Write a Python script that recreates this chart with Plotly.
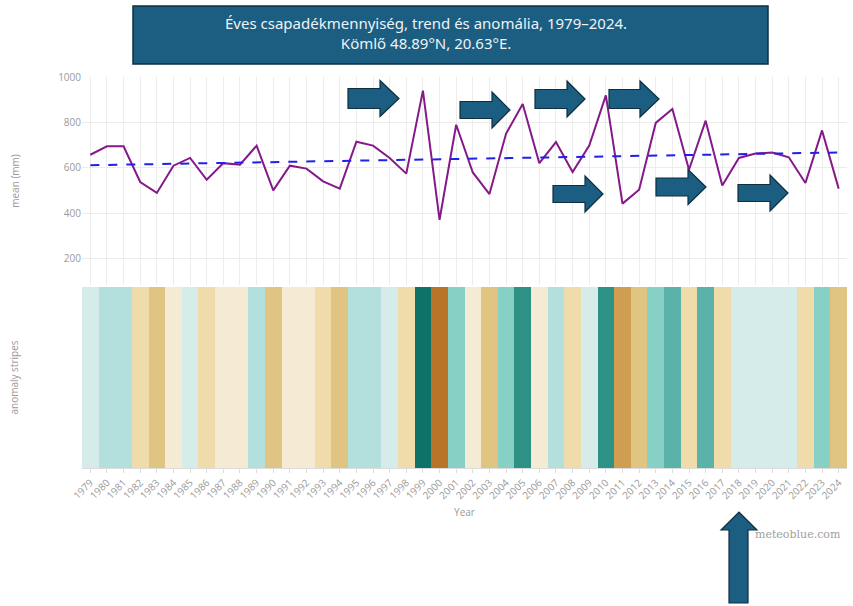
import plotly.graph_objects as go

years = list(range(1979, 2025))
precip_mm = [658, 695, 695, 538, 490, 610, 644, 548, 621, 614,
             698, 501, 610, 597, 541, 509, 715, 698, 644, 575,
             940, 372, 790, 580, 485, 751, 881, 621, 714, 582,
             698, 919, 443, 504, 798, 859, 592, 808, 523, 644,
             663, 668, 647, 534, 765, 509]
trend_years = [1979, 2024]
trend_mm = [612, 668]
anomaly_mm = [20, 60, 60, -90, -140, -30, 10, -80, -20, -25,
              60, -130, -25, -35, -85, -120, 80, 60, 10, -60,
              290, -240, 140, -45, -140, 110, 240, -20, 70, -55,
              45, 245, -190, -130, 145, 195, -60, 160, -95, 5,
              20, 25, 5, -90, 120, -110]
tick_labels = [str(y) for y in years]

stripe_colors = ["#b8752a", "#cf9e50", "#e0c481", "#f0dcaa", "#f5ebd5",
                 "#d5ecea", "#b3e0dc", "#87d0c5", "#5ab2a8", "#2e9186", "#0e7268"]
zmin, zmax = -250, 300
n = len(stripe_colors)
colorscale = []
for i, c in enumerate(stripe_colors):
    colorscale.append([i / n, c])
    colorscale.append([(i + 1) / n, c])

W, H = 853, 606
ML, MR, MT, MB = 82, 6, 77, 138
ph = H - MT - MB
pw = W - ML - MR
top_dom = [(H - MB - 285) / ph, 1]
bot_dom = [0, (H - MB - 287) / ph]

grey = "#9a9a9a"
font_fam = "Open Sans, Lato, sans-serif"

fig = go.Figure()
fig.add_trace(go.Scatter(x=years, y=precip_mm, mode="lines",
                         line=dict(color="#86198a", width=2), xaxis="x", yaxis="y",
                         showlegend=False, name="mean", cliponaxis=False))
fig.add_trace(go.Scatter(x=trend_years, y=trend_mm, mode="lines",
                         line=dict(color="#2020e8", width=2, dash="dash"), xaxis="x", yaxis="y",
                         showlegend=False, name="trend"))
fig.add_trace(go.Heatmap(x=years, y=[0], z=[anomaly_mm], colorscale=colorscale,
                         zmin=zmin, zmax=zmax, showscale=False, xaxis="x2", yaxis="y2",
                         xgap=0, hoverinfo="x+z"))

fig.update_layout(
    width=W, height=H,
    margin=dict(l=ML, r=MR, t=MT, b=MB, autoexpand=False),
    paper_bgcolor="white", plot_bgcolor="white",
    font=dict(family=font_fam, color=grey, size=10),
    xaxis=dict(domain=[0, 1], range=[1978.5, 2024.5], anchor="y", tickvals=years,
               showticklabels=False, showgrid=True, gridcolor="#ececec", gridwidth=1,
               zeroline=False, showline=False, ticks="", automargin=False),
    yaxis=dict(domain=top_dom, range=[85, 1000], tickvals=[200, 400, 600, 800, 1000],
               showgrid=True, gridcolor="#ececec", zeroline=False, automargin=False,
               title=dict(text="mean (mm)", font=dict(size=10, color=grey), standoff=36),
               tickfont=dict(size=10, color=grey)),
    xaxis2=dict(domain=[0, 1], range=[1978.5, 2024.5], anchor="y2", tickvals=years,
                ticktext=tick_labels, tickangle=-45, tickfont=dict(size=10, color=grey),
                ticks="outside", ticklen=4, tickcolor="#dddddd", automargin=False,
                showgrid=False, zeroline=False, showline=True, linecolor="#dddddd",
                title=dict(text="Year", font=dict(size=10, color=grey), standoff=8)),
    yaxis2=dict(domain=bot_dom, showticklabels=False, showgrid=False, zeroline=False,
                automargin=False,
                title=dict(text="anomaly stripes", font=dict(size=10, color=grey), standoff=60)),
)

def px(x):
    return (x - ML) / pw

def py(y):
    return (H - MB - y) / ph

# title box
fig.add_shape(type="rect", xref="paper", yref="paper",
              x0=px(133), x1=px(768), y0=py(64), y1=py(6),
              fillcolor="#1b5e82", line=dict(color="#0d2f40", width=1.5), layer="above")
fig.add_annotation(xref="paper", yref="paper", x=px(426), y=py(33),
                   xanchor="center", yanchor="middle",
                   text="Éves csapadékmennyiség, trend és anomália, 1979–2024.<br>Kömlő 48.89°N, 20.63°E.",
                   showarrow=False, align="center",
                   font=dict(family="Noto Sans, Open Sans, sans-serif", size=15, color="#eef3f6"))

fig.add_annotation(xref="paper", yref="paper", x=px(798), y=py(534),
                   xanchor="center", yanchor="middle",
                   text="meteoblue.com", showarrow=False,
                   font=dict(family="DejaVu Serif, serif", size=11, color="#a0a0a0"))

def right_arrow(x0, xb, xt, yc, bh, hh):
    pts = [(x0, yc - bh), (xb, yc - bh), (xb, yc - hh), (xt, yc), (xb, yc + hh),
           (xb, yc + bh), (x0, yc + bh)]
    return "M " + " L ".join(f"{px(a):.5f},{py(b):.5f}" for a, b in pts) + " Z"

arrows = [
    (348, 380, 399, 98.5, 10, 18),
    (460, 492, 510, 110, 8.5, 18),
    (535, 567, 585, 99, 9.5, 18),
    (609, 640, 659, 99, 9.5, 18),
    (553, 585, 603, 194, 8.5, 18),
    (656, 688, 706, 187, 9, 17.5),
    (738, 770, 788, 193, 8.5, 18),
]
for a in arrows:
    fig.add_shape(type="path", xref="paper", yref="paper", path=right_arrow(*a),
                  fillcolor="#1b5e82", line=dict(color="#0d2f40", width=1.2), layer="above")

up_pts = [(729, 603), (729, 530), (721, 530), (739, 512), (757, 530), (748, 530), (748, 603)]
up_path = "M " + " L ".join(f"{px(a):.5f},{py(b):.5f}" for a, b in up_pts) + " Z"
fig.add_shape(type="path", xref="paper", yref="paper", path=up_path,
              fillcolor="#1b5e82", line=dict(color="#0d2f40", width=1.2), layer="above")

fig.write_html("out.html", config={"displayModeBar": False},
               post_script="document.body.style.margin='0';document.body.style.overflow='hidden';")
